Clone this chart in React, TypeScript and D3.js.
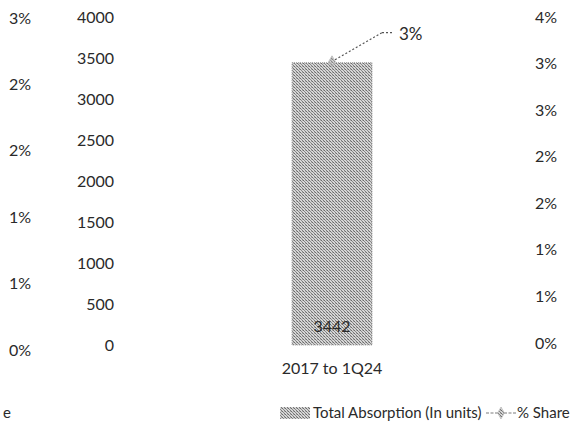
import React from "react";
import * as d3 from "d3";

const categories = ["2017 to 1Q24"];
const absorption = [3442];
const share = [0.0302];
const shareLabels = ["3%"];
const unitTicks = [0, 500, 1000, 1500, 2000, 2500, 3000, 3500, 4000];
const leftPctTicks = [0, 0.005, 0.01, 0.015, 0.02, 0.025];
const leftPctLabels = ["0%", "1%", "1%", "2%", "2%", "3%"];
const rightPctTicks = [0, 0.005, 0.01, 0.015, 0.02, 0.025, 0.03, 0.035];
const rightPctLabels = ["0%", "1%", "1%", "2%", "2%", "3%", "3%", "4%"];
const legendLabels = ["Total Absorption (In units)", "% Share"];

const W = 571;
const H = 441;
const FONT = "'Century Gothic', 'URW Gothic', Lato, 'DejaVu Sans', sans-serif";
const TXT = "#2a2a2a";

export default function App() {
  const yUnits = d3.scaleLinear().domain([0, 4000]).range([345, 17]);
  const yLeftPct = d3.scaleLinear().domain([0, 0.025]).range([350, 18]);
  const yRightPct = d3.scaleLinear().domain([0, 0.035]).range([343, 17]);
  const x = d3.scaleBand().domain(categories).range([212, 452]).paddingInner(0).paddingOuter(1);
  const bw = x.bandwidth();

  return (
    <svg width={W} height={H} style={{ position: "absolute", left: 0, top: 0, background: "#fff" }} fontFamily={FONT}>
      <defs>
        <pattern id="dots" width="3" height="3" patternUnits="userSpaceOnUse">
          <rect width="3" height="3" fill="#d6d6d6" />
          <rect x="0" y="0" width="1" height="1" fill="#6a6a6a" />
          <rect x="1" y="1" width="1" height="1" fill="#8a8a8a" />
          <rect x="2" y="2" width="1" height="1" fill="#7a7a7a" />
          <rect x="2" y="0" width="1" height="1" fill="#b0b0b0" />
        </pattern>
      </defs>

      {/* outer left percent axis */}
      {leftPctTicks.map((t, i) => (
        <text key={"lp" + i} x={31} y={yLeftPct(t)} dy="0.35em" textAnchor="end" fontSize={16} fill={TXT}>
          {leftPctLabels[i]}
        </text>
      ))}

      {/* unit axis */}
      {unitTicks.map((t) => (
        <text key={"u" + t} x={114} y={yUnits(t)} dy="0.35em" textAnchor="end" fontSize={16} fill={TXT}>
          {t}
        </text>
      ))}

      {/* right percent axis */}
      {rightPctTicks.map((t, i) => (
        <text key={"rp" + i} x={557} y={yRightPct(t)} dy="0.35em" textAnchor="end" fontSize={16} fill={TXT}>
          {rightPctLabels[i]}
        </text>
      ))}

      {/* bars */}
      {categories.map((c, i) => {
        const bx = x(c)!;
        const top = yUnits(absorption[i]);
        const bottom = yUnits(0);
        return (
          <g key={c}>
            <rect x={bx} y={top} width={bw} height={bottom - top} fill="url(#dots)" stroke="#9a9a9a" strokeWidth={1} strokeDasharray="1 1" />
            <text x={bx + bw / 2} y={bottom - 19} dy="0.35em" textAnchor="middle" fontSize={16} fill={TXT}>
              {absorption[i]}
            </text>
            <text x={bx + bw / 2} y={368} dy="0.35em" textAnchor="middle" fontSize={16} fill={TXT}>
              {c}
            </text>
          </g>
        );
      })}

      {/* share points with leader labels */}
      {categories.map((c, i) => {
        const cx = x(c)! + bw / 2;
        const cy = yRightPct(share[i]);
        return (
          <g key={"s" + c}>
            <line x1={cx + 3} y1={cy - 2} x2={cx + 50} y2={cy - 29} stroke="#555" strokeWidth={1.2} strokeDasharray="2 2" />
            <line x1={cx + 50} y1={cy - 29} x2={cx + 62} y2={cy - 29} stroke="#555" strokeWidth={1.2} strokeDasharray="2 2" />
            <path d={d3.symbol(d3.symbolDiamond, 40)()!} transform={`translate(${cx},${cy})`} fill="url(#dots)" stroke="#bbb" strokeWidth={0.8} />
            <text x={cx + 67} y={cy - 28} dy="0.35em" fontSize={17} fill={TXT}>
              {shareLabels[i]}
            </text>
          </g>
        );
      })}

      {/* legend */}
      <text x={3} y={413} dy="0.35em" fontSize={15} fill={TXT}>e</text>
      <rect x={280} y={407} width={30} height={12} fill="url(#dots)" />
      <text x={313} y={413} dy="0.35em" fontSize={15} fill={TXT}>{legendLabels[0]}</text>
      <line x1={486} y1={413} x2={516} y2={413} stroke="#bdbdbd" strokeWidth={2} strokeDasharray="3 1.5" />
      <path d={d3.symbol(d3.symbolDiamond, 40)()!} transform="translate(501,413)" fill="url(#dots)" stroke="#bbb" strokeWidth={0.8} />
      <text x={517} y={413} dy="0.35em" fontSize={15} fill={TXT}>{legendLabels[1]}</text>
    </svg>
  );
}
